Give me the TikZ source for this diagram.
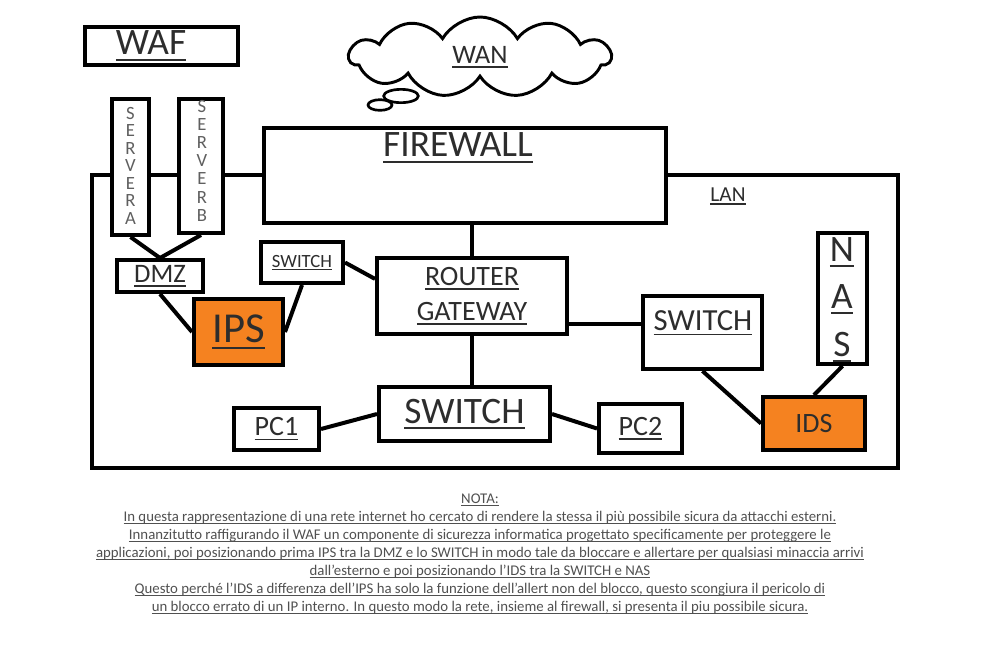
\documentclass[tikz,border=0pt]{standalone}
\usepackage{fontspec}
\setmainfont{Carlito}
\usetikzlibrary{shapes.symbols}
\definecolor{labelgray}{RGB}{45,45,45}
\definecolor{notegray}{RGB}{80,80,80}
\definecolor{lettergray}{RGB}{95,95,95}
\definecolor{secorange}{RGB}{245,130,32}
% underline at a fixed depth below the baseline
\newcommand{\uln}[1]{\leavevmode\setbox0=\hbox{#1}\rlap{\vrule height -0.10em depth 0.16em width \wd0}\box0}

\begin{document}
\begin{tikzpicture}[x=0.75pt, y=-0.75pt,
    box/.style={draw, line width=3pt, fill=white, inner sep=0pt, text=labelgray},
    alarm/.style={box, fill=secorange},
    wire/.style={line width=3pt},
    lbl/.style={text=labelgray, inner sep=0pt},
    srvletter/.style={text=lettergray, inner sep=0pt, text height=0.6em, text depth=0pt,
                      font=\fontsize{14}{14}\selectfont}]
            \useasboundingbox (0,0) rectangle (988,669);

            % LAN border
            \draw[wire] (92,175) rectangle (898,468);
            \node[lbl, font=\fontsize{16}{19}\selectfont] (lanlbl) at (728,196) {\uln{LAN}};

            % WAF
            \node[box, minimum width=114.75pt, minimum height=28.5pt] (waf) at (161.5,46) {};
            \node[lbl, font=\fontsize{28}{32}\selectfont] (waflbl) at (151,46) {\uln{WAF}};

            % WAN cloud
            \node[cloud, draw, line width=2.2pt, cloud puffs=11, cloud puff arc=120, aspect=3.2,
                  minimum width=196pt, minimum height=60pt, text=labelgray,
                  font=\fontsize{20}{24}\selectfont] (wan) at (480,57) {\uln{WAN}};
            \draw[line width=2pt] (401,96) ellipse [x radius=13pt, y radius=5pt];
            \draw[line width=2pt] (380,105) ellipse [x radius=9pt, y radius=4pt];

            % Servers
            \node[box, minimum width=27.75pt, minimum height=102pt] (srva) at (130.5,167) {};
            \node[box, minimum width=33pt, minimum height=100.5pt] (srvb) at (201,166) {};
            \foreach \ch [count=\i] in {S,E,R,V,E,R,A}
                \node[srvletter] (srva\i) at (130.5,{115+17.5*(\i-1)}) {\ch};
            \foreach \ch [count=\i] in {S,E,R,V,E,R,B}
                \node[srvletter] (srvb\i) at (202,{108+18.2*(\i-1)}) {\ch};

            % Firewall
            \node[box, minimum width=301.5pt, minimum height=71.25pt] (fw) at (465,175.5) {};
            \node[lbl, font=\fontsize{28}{34}\selectfont] (fwlbl) at (458,148) {\uln{FIREWALL}};

            % Router
            \node[box, align=center, minimum width=142.5pt, minimum height=57pt,
                  font=\fontsize{21}{26}\selectfont] (router) at (472,296) {\uln{ROUTER}\\\uln{GATEWAY}};

            % DMZ side
            \node[box, minimum width=64.5pt, minimum height=24pt, font=\fontsize{20}{24}\selectfont] (dmz) at (160,276) {\uln{DMZ}};
            \node[box, minimum width=61.5pt, minimum height=30.75pt, font=\fontsize{14}{17}\selectfont] (swsmall) at (302,262.5) {\uln{SWITCH}};
            \node[alarm, minimum width=66.75pt, minimum height=49.5pt, font=\fontsize{32}{38}\selectfont] (ips) at (238.5,332) {\uln{IPS}};

            % Right side
            \node[box, minimum width=89.25pt, minimum height=54.75pt] (swright) at (702.5,332.5) {};
            \node[lbl, font=\fontsize{23}{28}\selectfont] (swrightlbl) at (703,323) {\uln{SWITCH}};
            \node[box, minimum width=36.75pt, minimum height=98.25pt] (nas) at (842.5,298.5) {};
            \foreach \ch [count=\i] in {N,A,S}
                \node[lbl, font=\fontsize{28}{34}\selectfont] (nas\i) at (842,{252+47.5*(\i-1)}) {\uln{\ch}};
            \node[alarm, minimum width=76.5pt, minimum height=39.75pt, font=\fontsize{21}{25}\selectfont] (ids) at (814,423.5) {IDS};

            % Bottom switch and PCs
            \node[box, minimum width=128.25pt, minimum height=40.5pt, font=\fontsize{28}{34}\selectfont] (swcenter) at (464.5,414) {\uln{SWITCH}};
            \node[box, minimum width=63.75pt, minimum height=31.5pt, font=\fontsize{21}{25}\selectfont] (pc1) at (276.5,429) {\uln{PC1}};
            \node[box, minimum width=62.25pt, minimum height=36.75pt, font=\fontsize{21}{25}\selectfont] (pc2) at (640.5,428.5) {\uln{PC2}};

            % Links
            \draw[wire] (srva.south) -- (dmz.north);
            \draw[wire] (srvb.south) -- (dmz.north);
            \draw[wire] (dmz.south) -- (ips.west);
            \draw[wire] (ips.east) -- (swsmall.south);
            \draw[wire] (swsmall.east) -- (router.170);
            \draw[wire] (router.north) -- (router.north |- fw.south);
            \draw[wire] (router.-16) -- (router.-16 -| swright.west);
            \draw[wire] (router.south) -- (router.south |- swcenter.north);
            \draw[wire] (swcenter.west) -- (pc1.east);
            \draw[wire] (swcenter.east) -- (pc2.west);
            \draw[wire] (swright.south) -- (ids.west);
            \draw[wire] (nas.south) -- (ids.north);

            % Note
            \node[text=notegray, align=center, font=\fontsize{11.1}{13.5}\selectfont] (nota) at (480,554) {%
                \uln{NOTA:}\\
                \uln{In questa rappresentazione di una rete internet ho cercato di rendere la stessa il più possibile sicura da attacchi esterni.}\\
                \uln{Innanzitutto raffigurando il WAF un componente di sicurezza informatica progettato specificamente per proteggere le}\\
                \uln{applicazioni, poi posizionando prima IPS tra la DMZ e lo SWITCH in modo tale da bloccare e allertare per qualsiasi minaccia arrivi}\\
                \uln{dall'esterno e poi posizionando l'IDS tra la SWITCH e NAS}\\
                \uln{Questo perché l'IDS a differenza dell'IPS ha solo la funzione dell'allert non del blocco, questo scongiura il pericolo di}\\
                \uln{un blocco errato di un IP interno. In questo modo la rete, insieme al firewall, si presenta il piu possibile sicura.}};

        \end{tikzpicture}
\end{document}
